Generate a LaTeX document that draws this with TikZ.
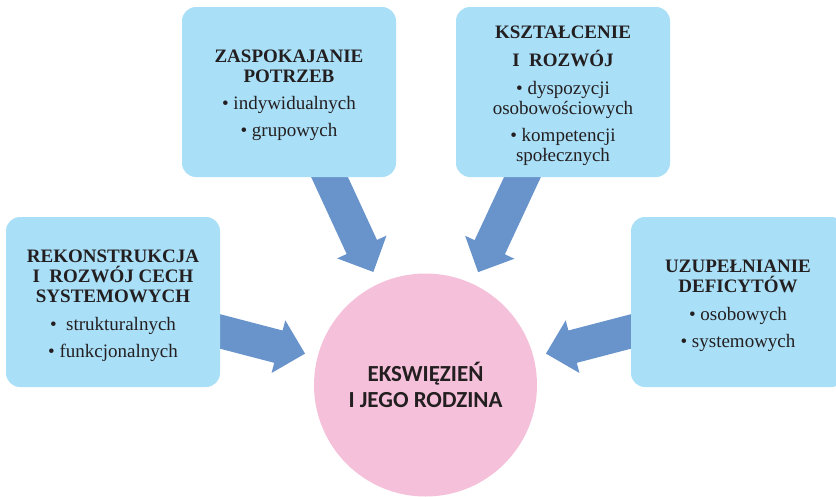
\documentclass[tikz,border=0pt]{standalone}
\usepackage{fontspec}
\setmainfont{Liberation Serif}
\newfontfamily\calib{Carlito}
\usetikzlibrary{calc,backgrounds}
\definecolor{boxblue}{HTML}{A9DFF7}
\definecolor{arrowblue}{HTML}{6893CB}
\definecolor{circpink}{HTML}{F5C1DA}
\definecolor{txt}{HTML}{231F20}
\newcommand\topstrut{\rule{0pt}{20pt}}
\newcommand\blockarrow[2]{%
  \path ($(#2)!27.5pt!(#1)$) coordinate (ah);
  \fill[arrowfill] ($(#1)!16.7pt!90:(#2)$) -- ($(ah)!16.7pt!90:(#2)$) -- ($(ah)!27.2pt!90:(#2)$) -- (#2) -- ($(ah)!27.2pt!-90:(#2)$) -- ($(ah)!16.7pt!-90:(#2)$) -- ($(#1)!16.7pt!-90:(#2)$) -- cycle;}
\begin{document}
\begin{tikzpicture}[x=1pt,y=-1pt,
  box/.style={fill=boxblue,rounded corners=14pt,minimum width=214pt,minimum height=170pt,inner sep=0pt,align=center,text=txt,font=\fontsize{19}{20}\selectfont},
  hub/.style={circle,fill=circpink,minimum size=223pt,inner sep=0pt,align=center,text=txt,font=\calib\bfseries\fontsize{23}{26}\selectfont},
  arrowfill/.style={fill=arrowblue}]
\useasboundingbox (0,0) rectangle (836,496);
\clip (0,0) rectangle (836,496);
\node[hub] (c) at (425.5,385) {EKSWIĘZIEŃ\\I JEGO RODZINA};
\node[box] (b1) at (289,92) {\topstrut\textbf{ZASPOKAJANIE}\\\textbf{POTRZEB}\\[7pt]• indywidualnych\\[7pt]• grupowych};
\node[box] (b2) at (563,92) {\topstrut\textbf{KSZTAŁCENIE}\\[8pt]\textbf{I\ \ ROZWÓJ}\\[8pt]• dyspozycji\\osobowościowych\\[7pt]• kompetencji\\społecznych};
\node[box] (b3) at (113,302) {\topstrut\textbf{REKONSTRUKCJA}\\\textbf{I\ \ ROZWÓJ CECH}\\\textbf{SYSTEMOWYCH}\\[8pt]•\ \ strukturalnych\\[7pt]• funkcjonalnych};
\node[box] (b4) at (738,302) {\topstrut\textbf{UZUPEŁNIANIE}\\\textbf{DEFICYTÓW}\\[8pt]• osobowych\\[7pt]• systemowych};
\coordinate (e1) at ($(b1.south)+(42,3)$);
\coordinate (e2) at ($(b2.south)+(-42,3)$);
\coordinate (e3) at ($(b3.east)+(2,30)$);
\coordinate (e4) at ($(b4.west)+(-2,30)$);
\coordinate (k1) at ($(c.center)!124.5pt!(e1)$);
\coordinate (k2) at ($(c.center)!124.5pt!(e2)$);
\coordinate (k3) at ($(c.center)!124.5pt!(e3)$);
\coordinate (k4) at ($(c.center)!124.5pt!(e4)$);
\coordinate (s1) at ($(e1)!-15pt!(k1)$);
\coordinate (s2) at ($(e2)!-15pt!(k2)$);
\coordinate (s3) at ($(e3)!-15pt!(k3)$);
\coordinate (s4) at ($(e4)!-15pt!(k4)$);
\begin{scope}[on background layer]
\blockarrow{s1}{k1}
\blockarrow{s2}{k2}
\blockarrow{s3}{k3}
\blockarrow{s4}{k4}
\end{scope}
\end{tikzpicture}
\end{document}
